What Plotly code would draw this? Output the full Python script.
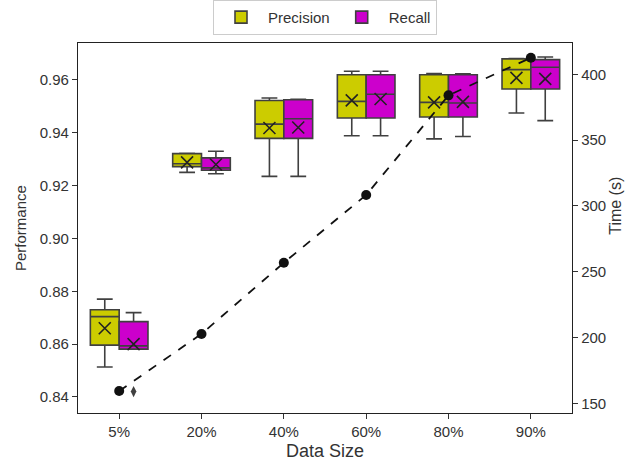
import plotly.graph_objects as go

categories = ["5%", "20%", "40%", "60%", "80%", "90%"]

prec_lower = [0.8513, 0.9250, 0.9235, 0.9389, 0.9377, 0.9475]
prec_q1 = [0.8596, 0.9272, 0.9379, 0.9456, 0.9460, 0.9566]
prec_median = [0.8704, 0.9283, 0.9433, 0.9519, 0.9515, 0.9639]
prec_q3 = [0.8730, 0.9321, 0.9522, 0.9620, 0.9620, 0.9680]
prec_upper = [0.8770, 0.9322, 0.9532, 0.9633, 0.9624, 0.9681]
prec_mean = [0.8660, 0.9288, 0.9418, 0.9523, 0.9515, 0.9608]

rec_lower = [0.8581, 0.9245, 0.9235, 0.9389, 0.9386, 0.9446]
rec_q1 = [0.8581, 0.9258, 0.9379, 0.9456, 0.9460, 0.9566]
rec_median = [0.8593, 0.9267, 0.9453, 0.9546, 0.9513, 0.9648]
rec_q3 = [0.8685, 0.9305, 0.9525, 0.9620, 0.9620, 0.9677]
rec_upper = [0.8719, 0.9330, 0.9527, 0.9633, 0.9623, 0.9687]
rec_mean = [0.8600, 0.9280, 0.9420, 0.9528, 0.9517, 0.9604]
rec_outlier_cat = [0]
rec_outlier_val = [0.8420]

time_s = [159.3, 202.7, 256.8, 308.3, 384.0, 412.6]

PREC_COLOR = "#cccc00"
REC_COLOR = "#cc00cc"
EDGE = "#404040"
TXT = "#333333"
BOX_W = 0.35
OFF = 0.175

idx = list(range(len(categories)))
xp = [i - OFF for i in idx]
xr = [i + OFF for i in idx]

fig = go.Figure()

fig.add_trace(go.Box(
    name="Precision", x=xp, q1=prec_q1, median=prec_median, q3=prec_q3,
    lowerfence=prec_lower, upperfence=prec_upper, width=BOX_W,
    fillcolor=PREC_COLOR, line=dict(color=EDGE, width=1.6),
    whiskerwidth=0.55, boxpoints=False, hoverinfo="skip",
))
fig.add_trace(go.Box(
    name="Recall", x=xr, q1=rec_q1, median=rec_median, q3=rec_q3,
    lowerfence=rec_lower, upperfence=rec_upper, width=BOX_W,
    fillcolor=REC_COLOR, line=dict(color=EDGE, width=1.6),
    whiskerwidth=0.55, boxpoints=False, hoverinfo="skip",
))
fig.add_trace(go.Scatter(
    x=xp, y=prec_mean, mode="markers", showlegend=False, hoverinfo="skip",
    marker=dict(symbol="x-thin", size=12, line=dict(color="#222222", width=1.6)),
))
fig.add_trace(go.Scatter(
    x=xr, y=rec_mean, mode="markers", showlegend=False, hoverinfo="skip",
    marker=dict(symbol="x-thin", size=12, line=dict(color="#222222", width=1.6)),
))
fig.add_trace(go.Scatter(
    x=[c + OFF for c in rec_outlier_cat], y=rec_outlier_val, mode="markers",
    showlegend=False, hoverinfo="skip",
    marker=dict(symbol="diamond-tall", size=8, color="#404040"),
))
fig.add_trace(go.Scatter(
    x=idx, y=time_s, yaxis="y2", mode="lines+markers", showlegend=False,
    hoverinfo="skip",
    line=dict(color="#111111", width=1.8, dash="dash"),
    marker=dict(symbol="circle", size=10, color="#111111"),
))

axis_common = dict(
    showgrid=False, zeroline=False, showline=True, linecolor="#222222",
    linewidth=1.3, ticks="outside", ticklen=5, tickcolor=TXT,
    tickfont=dict(size=15, color=TXT),
)

fig.update_layout(
    width=629, height=461,
    margin=dict(l=78, r=57, t=43, b=48, autoexpand=False),
    paper_bgcolor="white", plot_bgcolor="white",
    font=dict(family="Liberation Sans, Arial, sans-serif", color=TXT),
    showlegend=True,
    legend=dict(
        orientation="h", x=0.5, xanchor="center", y=1.022, yanchor="bottom",
        bordercolor="#cccccc", borderwidth=1, bgcolor="white",
        font=dict(size=15, color=TXT), itemwidth=44,
    ),
    xaxis=dict(
        **axis_common, range=[-0.5, 5.5], tickmode="array",
        tickvals=idx, ticktext=categories, mirror=True,
    ),
    yaxis=dict(
        **axis_common, range=[0.8339, 0.974], tickformat=".2f", dtick=0.02,
        tick0=0.84,
    ),
    yaxis2=dict(
        **axis_common, overlaying="y", side="right", range=[142.6, 423.8],
        tickvals=[150, 200, 250, 300, 350, 400],
    ),
    annotations=[
        dict(text="Data Size", xref="paper", yref="paper", x=0.5, y=0,
             xanchor="center", yanchor="middle", yshift=-38, showarrow=False,
             font=dict(size=18, color=TXT)),
        dict(text="Performance", xref="paper", yref="paper", x=0, y=0.5,
             xanchor="center", yanchor="middle", xshift=-58, textangle=-90,
             showarrow=False, font=dict(size=15, color=TXT)),
        dict(text="Time (s)", xref="paper", yref="paper", x=1, y=0.56,
             xanchor="center", yanchor="middle", xshift=44, textangle=-90,
             showarrow=False, font=dict(size=16, color=TXT)),
    ],
)

fig.write_html(
    "out.html",
    config={"displayModeBar": False},
    post_script="document.body.style.margin='0';document.body.style.overflow='hidden';",
)
